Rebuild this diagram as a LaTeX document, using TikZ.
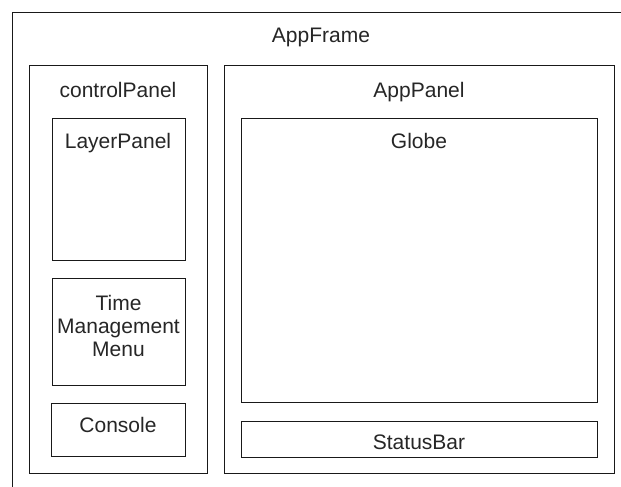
\documentclass[tikz,border=0pt]{standalone}
\usepackage{fontspec}
\setmainfont{Liberation Sans}
\usetikzlibrary{calc}
\begin{document}
\begin{tikzpicture}[x=1pt,y=-1pt,
  box/.style={draw=black!90, line width=1.3pt, rectangle, inner sep=0pt, anchor=north west},
  txt/.style={text=black!85, font=\fontsize{21}{23}\selectfont, inner sep=0pt, anchor=base, align=center}]
\useasboundingbox[fill=white] (0,0) rectangle (621,487);
% outer application frame (extends past the page edge)
\node[box, minimum width=660, minimum height=520] (frame) at (12,12) {};
\node[txt] (frametxt) at (321,43) {AppFrame};
% left control column
\node[box, minimum width=178, minimum height=408] (cp) at (29,65) {};
\node[txt] (cptxt) at (118,97) {controlPanel};
\node[box, minimum width=133, minimum height=142] (layer) at (52,118) {};
\node[txt] (layertxt) at (118,148) {LayerPanel};
\node[box, minimum width=133, minimum height=107] (time) at (52,278) {};
\node[txt, anchor=center] (timetxt) at (118.5,326) {Time\\Management\\Menu};
\node[box, minimum width=134, minimum height=53] (console) at (51,403) {};
\node[txt] (consoletxt) at (118,432) {Console};
% right application panel
\node[box, minimum width=390, minimum height=408] (app) at (224,65) {};
\node[txt] (apptxt) at (419,97) {AppPanel};
\node[box, minimum width=356, minimum height=284] (globe) at (241,118) {};
\node[txt] (globetxt) at (419,148) {Globe};
\node[box, minimum width=356, minimum height=36] (status) at (241,421) {};
\node[txt] (statustxt) at (419,449) {StatusBar};
\end{tikzpicture}
\end{document}
